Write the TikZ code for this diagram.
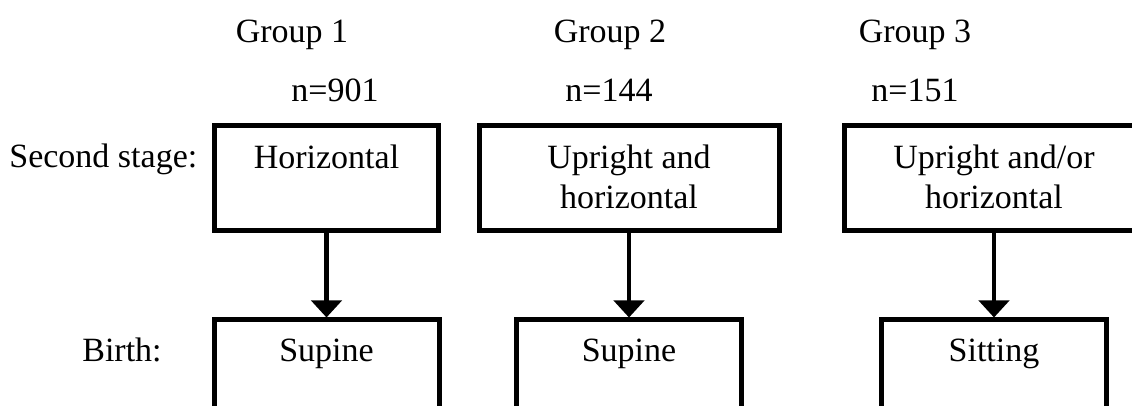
\documentclass[tikz,border=0pt]{standalone}
\usepackage{fontspec}
\setmainfont{Liberation Serif}
\usepackage{tikz}
\usetikzlibrary{positioning,arrows.meta}
\tikzstyle{block} = [draw, rectangle, line width=2.5pt, inner sep=0pt, align=center]
\tikzstyle{stage} = [block, minimum height=52.5pt, text height=21.5pt, text depth=31pt]
\tikzstyle{stagetwo} = [block, minimum height=52.5pt, text height=41.5pt, text depth=11pt]
\tikzstyle{birth} = [block, minimum width=112.5pt, minimum height=55pt, text height=21pt, text depth=34pt]
\tikzstyle{data} = [anchor=base, inner sep=0pt]
\tikzstyle{to} = [-{Triangle[width=15pt,length=8.5pt]}, line width=2.2pt]

\begin{document}
\begin{tikzpicture}[x=0.5pt, y=-0.5pt, font=\fontsize{17}{20}\selectfont]
	\useasboundingbox (0,0) rectangle (1132,406);
	\node (g1) [data] at (292,43) {Group 1};
	\node (g2) [data] at (610,43) {Group 2};
	\node (g3) [data] at (915,43) {Group 3};
	\node (n1) [data] at (335,102) {n=901};
	\node (n2) [data] at (609,102) {n=144};
	\node (n3) [data] at (915,102) {n=151};
	\node (second) [data, anchor=base west] at (9,168) {Second stage:};
	\node (birth) [data] at (122,362) {Birth:};
	\node (s1) [stage, minimum width=112pt] at (326.5,178) {Horizontal};
	\node (s2) [stagetwo, minimum width=150pt] at (629,178) {Upright and\\horizontal};
	\node (s3) [stagetwo, minimum width=150pt] at (994,178) {Upright and/or\\horizontal};
	\node (b1) [birth] at (326.5,375) {Supine};
	\node (b2) [birth] at (629,375) {Supine};
	\node (b3) [birth] at (994,375) {Sitting};
	\draw [to] (s1.south) -- (b1.north);
	\draw [to] (s2.south) -- (b2.north);
	\draw [to] (s3.south) -- (b3.north);
\end{tikzpicture}
\end{document}
